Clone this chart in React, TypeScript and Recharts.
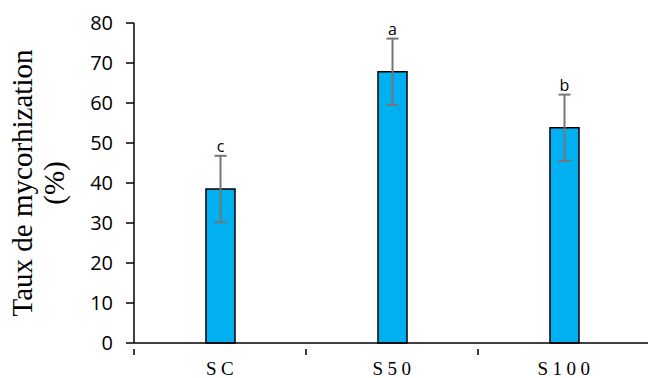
import { Bar, BarChart, ErrorBar, LabelList, XAxis, YAxis } from "recharts";

const treatments = ["SC", "S50", "S100"];
const mycorrhization = [38.5, 67.8, 53.8];
const stdErrors = [8.3, 8.3, 8.3];
const groups = ["c", "a", "b"];
const yTicks = [0, 10, 20, 30, 40, 50, 60, 70, 80];

const data = treatments.map((name, i) => ({
  name,
  value: mycorrhization[i],
  err: stdErrors[i],
  group: groups[i],
}));

const HALF_BAND = 86;

// category label at the centre, tick mark at the left edge of each band
function XTick(props: any) {
  const { x, y, payload } = props;
  return (
    <g>
      <line x1={x - HALF_BAND} y1={y - 13} x2={x - HALF_BAND} y2={y - 7} stroke="#000" strokeWidth={1.5} />
      <text
        x={x + 2}
        y={y}
        dy="0.71em"
        textAnchor="middle"
        fontFamily="'Liberation Serif', 'Times New Roman', serif"
        fontSize={19}
        letterSpacing={4.5}
        fill="#000"
      >
        {payload.value}
      </text>
    </g>
  );
}

// significance letter placed just above the error bar cap
function GroupLetter(props: any) {
  const { x, y, width, height, index } = props;
  const row = data[index];
  const perUnit = height / row.value;
  const capY = y - row.err * perUnit;
  return (
    <text
      x={x + width / 2}
      y={capY - 4}
      textAnchor="middle"
      fontFamily="'Open Sans', sans-serif"
      fontSize={16}
      fill="#000"
    >
      {row.group}
    </text>
  );
}

function YLabel(props: any) {
  const { viewBox } = props;
  const cy = viewBox.y + viewBox.height / 2;
  const font = "'Liberation Serif', 'Times New Roman', serif";
  return (
    <g>
      <text x={32} y={cy} transform={`rotate(-90 32 ${cy})`} textAnchor="middle" fontFamily={font} fontSize={29} fill="#000">
        Taux de mycorhization
      </text>
      <text x={64} y={cy} transform={`rotate(-90 64 ${cy})`} textAnchor="middle" fontFamily={font} fontSize={29} fill="#000">
        (%)
      </text>
    </g>
  );
}

export default function App() {
  return (
    <div style={{ position: "absolute", left: 0, top: 0, width: 648, height: 378, overflow: "hidden", background: "#fff" }}>
      <BarChart width={650} height={378} data={data} margin={{ top: 23, right: 0, bottom: 0, left: 0 }}>
        <XAxis
          dataKey="name"
          height={35}
          axisLine={{ stroke: "#000", strokeWidth: 1.5 }}
          tickLine={false}
          tickMargin={13}
          tick={<XTick />}
        />
        <YAxis
          width={134}
          domain={[0, 80]}
          ticks={yTicks}
          interval={0}
          tickSize={8}
          tickMargin={13}
          axisLine={{ stroke: "#000", strokeWidth: 1.5 }}
          tickLine={{ stroke: "#000", strokeWidth: 1.5 }}
          tick={{ fill: "#000", fontSize: 20, fontFamily: "'Open Sans', sans-serif" }}
          label={{ content: <YLabel /> }}
        />
        <Bar dataKey="value" barSize={29} fill="#00B0F0" stroke="#000" strokeWidth={1.5} isAnimationActive={false}>
          <ErrorBar dataKey="err" width={6} stroke="#767676" strokeWidth={2} />
          <LabelList dataKey="group" content={<GroupLetter />} />
        </Bar>
      </BarChart>
    </div>
  );
}
